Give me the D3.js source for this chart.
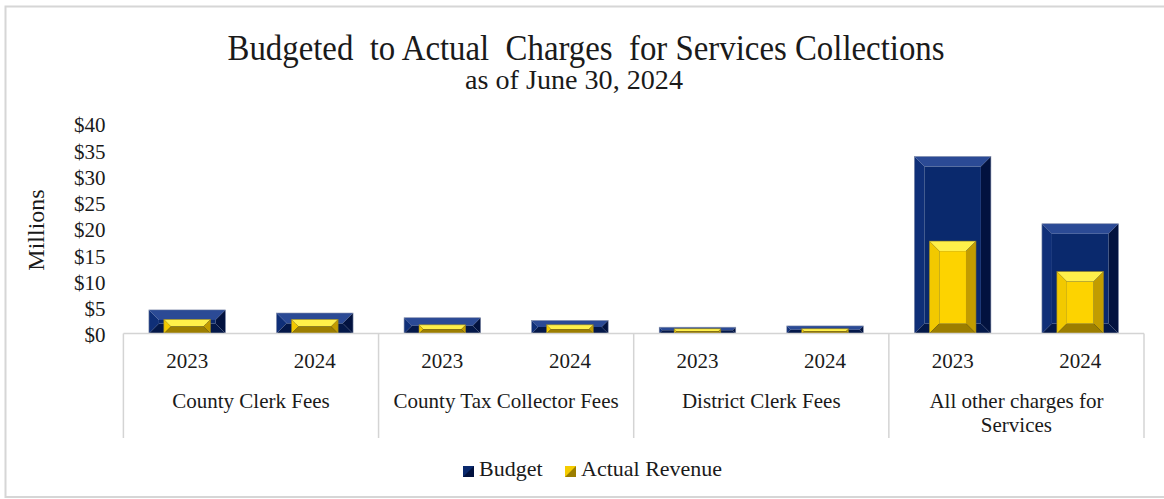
<!DOCTYPE html>
<html>
<head>
<meta charset="utf-8">
<script src="https://cdn.jsdelivr.net/npm/d3@7"></script>
<style>
  html, body { margin: 0; padding: 0; background: #fff; }
  svg { display: block; }
  text { font-family: "Liberation Serif", "Times New Roman", serif; fill: #1a1a1a; }
</style>
</head>
<body>
<svg id="chart" width="1164" height="499"></svg>
<script>
// Charges for services, in millions of dollars
const categories = ["County Clerk Fees", "County Tax Collector Fees", "District Clerk Fees", "All other charges for|Services"];
const years = ["2023", "2024"];
const budget = [[4.5, 3.9], [3.0, 2.5], [1.2, 1.45], [33.7, 20.9]];
const actual = [[2.7, 2.7], [1.65, 1.65], [0.9, 0.9], [17.6, 11.8]];
const yTicks = [0, 5, 10, 15, 20, 25, 30, 35, 40];
const seriesNames = ["Budget", "Actual Revenue"];

const svg = d3.select("#chart");
const W = 1164, H = 499;
const plot = { left: 123.4, right: 1144, top: 123.5, bottom: 333.5 };

svg.append("rect").attr("width", W).attr("height", H).attr("fill", "#fff");
// outer frame
svg.append("rect")
  .attr("x", 5.5).attr("y", 6.5).attr("width", 1180).attr("height", 490.5)
  .attr("fill", "none").attr("stroke", "#d6d6d6").attr("stroke-width", 2);

// Titles
svg.append("text").attr("x", 586).attr("y", 60).attr("text-anchor", "middle")
  .attr("font-size", 35).attr("textLength", 717).attr("lengthAdjust", "spacingAndGlyphs")
  .attr("xml:space", "preserve")
  .text("Budgeted  to Actual  Charges  for Services Collections");
svg.append("text").attr("x", 574).attr("y", 89).attr("text-anchor", "middle")
  .attr("font-size", 27).attr("textLength", 218).attr("lengthAdjust", "spacingAndGlyphs")
  .text("as of June 30, 2024");

// Scales
const x0 = d3.scaleBand().domain(categories).range([plot.left, plot.right]).padding(0);
const x1 = d3.scaleBand().domain(years).range([0, x0.bandwidth()]).paddingInner(0.4).paddingOuter(0.2);
const y = d3.scaleLinear().domain([0, 40]).range([plot.bottom, plot.top]);

// Y axis
const yAxis = svg.append("g").attr("transform", `translate(${plot.left},0)`)
  .call(d3.axisLeft(y).tickValues(yTicks).tickSize(0).tickPadding(18).tickFormat(d => "$" + d));
yAxis.select(".domain").remove();
yAxis.selectAll("text").attr("font-size", 21).attr("font-family", "Liberation Serif, serif")
  .attr("fill", "#1a1a1a").attr("dy", "0.4em");

svg.append("text").attr("transform", "translate(44,230) rotate(-90)")
  .attr("text-anchor", "middle").attr("font-size", 24).text("Millions");

// Bevelled bar: face plus four edge facets
const budgetTone = { face: "#0a296d", top: "#2b4a95", left: "#0f2f78", right: "#02123f", bottom: "#041849", edge: "#7d89a8" };
const actualTone = { face: "#fdd300", top: "#fff04a", left: "#f2c900", right: "#c29c00", bottom: "#9c7e00", edge: "#8a7a2a" };

function bevelBar(g, bx, by, bw, bh, tone, size) {
  if (bh <= 0) return;
  const b = Math.min(size, bh / 2, bw / 2);
  const x2 = bx + bw, y2 = by + bh;
  const facet = (pts, fill) => g.append("polygon").attr("points", pts.map(p => p.join(",")).join(" ")).attr("fill", fill);
  facet([[bx, by], [x2, by], [x2 - b, by + b], [bx + b, by + b]], tone.top);
  facet([[bx, by], [bx + b, by + b], [bx + b, y2 - b], [bx, y2]], tone.left);
  facet([[x2, by], [x2, y2], [x2 - b, y2 - b], [x2 - b, by + b]], tone.right);
  facet([[bx, y2], [bx + b, y2 - b], [x2 - b, y2 - b], [x2, y2]], tone.bottom);
  g.append("rect").attr("x", bx + b).attr("y", by + b).attr("width", Math.max(0, bw - 2 * b))
    .attr("height", Math.max(0, bh - 2 * b)).attr("fill", tone.face);
  g.append("rect").attr("x", bx).attr("y", by).attr("width", bw).attr("height", bh)
    .attr("fill", "none").attr("stroke", tone.edge).attr("stroke-width", 0.6);
}

const bars = svg.append("g");
categories.forEach((c, ci) => {
  years.forEach((yr, yi) => {
    const bx = x0(c) + x1(yr), bw = x1.bandwidth();
    const vb = budget[ci][yi], va = actual[ci][yi];
    bevelBar(bars, bx, y(vb), bw, y(0) - y(vb), budgetTone, 10);
    const aw = bw * 0.61, ax = bx + (bw - aw) / 2;
    bevelBar(bars, ax, y(va), aw, y(0) - y(va), actualTone, 10);
  });
});

// Category axis frame
const axisG = svg.append("g");
const lineColor = "#d4d4d4";
axisG.append("line").attr("x1", plot.left).attr("x2", plot.right).attr("y1", plot.bottom).attr("y2", plot.bottom)
  .attr("stroke", lineColor).attr("stroke-width", 1.5);
const bounds = categories.map(c => x0(c)).concat([plot.right]);
bounds.forEach(bx => {
  axisG.append("line").attr("x1", bx).attr("x2", bx).attr("y1", plot.bottom).attr("y2", 438)
    .attr("stroke", lineColor).attr("stroke-width", 1.5);
});

categories.forEach(c => {
  years.forEach(yr => {
    axisG.append("text").attr("x", x0(c) + x1(yr) + x1.bandwidth() / 2).attr("y", 368)
      .attr("text-anchor", "middle").attr("font-size", 21).text(yr);
  });
  const lines = c.split("|");
  lines.forEach((ln, li) => {
    axisG.append("text").attr("x", x0(c) + x0.bandwidth() / 2).attr("y", 408 + li * 24)
      .attr("text-anchor", "middle").attr("font-size", 21).text(ln);
  });
});

// Legend
const legend = svg.append("g");
const legendItems = [
  { name: seriesNames[0], x: 463, a: "#0a296d", b: "#02123f" },
  { name: seriesNames[1], x: 565, a: "#f5cc00", b: "#9c7e00" }
];
legendItems.forEach(it => {
  const s = 11, ly = 466;
  legend.append("rect").attr("x", it.x).attr("y", ly).attr("width", s).attr("height", s).attr("fill", it.a);
  legend.append("polygon")
    .attr("points", `${it.x + s},${ly} ${it.x + s},${ly + s} ${it.x},${ly + s}`).attr("fill", it.b);
  legend.append("text").attr("x", it.x + 16).attr("y", 476).attr("font-size", 22).text(it.name);
});
</script>
</body>
</html>
